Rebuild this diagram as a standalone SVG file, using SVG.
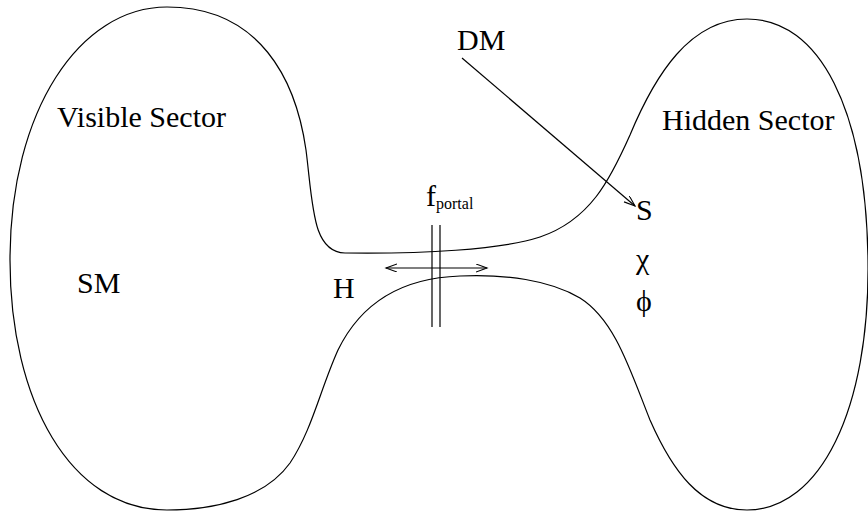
<svg xmlns="http://www.w3.org/2000/svg" width="868" height="512" viewBox="0 0 868 512">
<style>
.ln{fill:none;stroke:#000;stroke-width:1.2}
text{fill:#000;font-family:'Liberation Serif','Times New Roman',serif;font-size:30px}
.sub{font-size:16px}
</style>
<defs>
<marker id="ah" markerUnits="userSpaceOnUse" markerWidth="14" markerHeight="10" refX="11" refY="4" orient="auto-start-reverse" viewBox="0 0 14 10">
<path d="M0,0 L11,4 L0,8" fill="none" stroke="#000" stroke-width="1.1"/>
</marker>
</defs>
<rect width="868" height="512" fill="#fff"/>
<g id="sectors">
<path class="ln" d="M167,7 C260,7 296,80 306,150 C313,205 312,252 345,253 C420,254 500,250 540,237 C590,220 610,180 630,135 C655,75 690,19 747,19 C820,19 866,110 868,260 C870,410 820,510 747,510 C700,510 672,470 650,420 C630,370 615,320 580,298 C550,280 505,274 460,276 C400,278 360,305 338,350 C320,390 312,430 290,463 C265,498 215,510 167,510 C70,510 10,400 10,260 C10,110 80,7 167,7 Z"/>
</g>
<g id="portal">
<line class="ln" x1="432" y1="225" x2="432" y2="327"/>
<line class="ln" x1="440" y1="225" x2="440" y2="327"/>
<text x="426" y="206">f<tspan class="sub" dy="3">portal</tspan></text>
</g>
<g id="labels">
<text x="57" y="127">Visible Sector</text>
<text x="662" y="130">Hidden Sector</text>
<text x="77" y="293">SM</text>
<text x="333" y="298">H</text>
<text x="457" y="50">DM</text>
<text x="636" y="220">S</text>
<text x="636" y="269">χ</text>
<text x="636" y="311">ϕ</text>
</g>
<g id="connectors">
<line class="ln" x1="386" y1="268" x2="487" y2="268" marker-start="url(#ah)" marker-end="url(#ah)"/>
<line class="ln" x1="462" y1="58" x2="635" y2="206" marker-end="url(#ah)"/>
</g>
</svg>
